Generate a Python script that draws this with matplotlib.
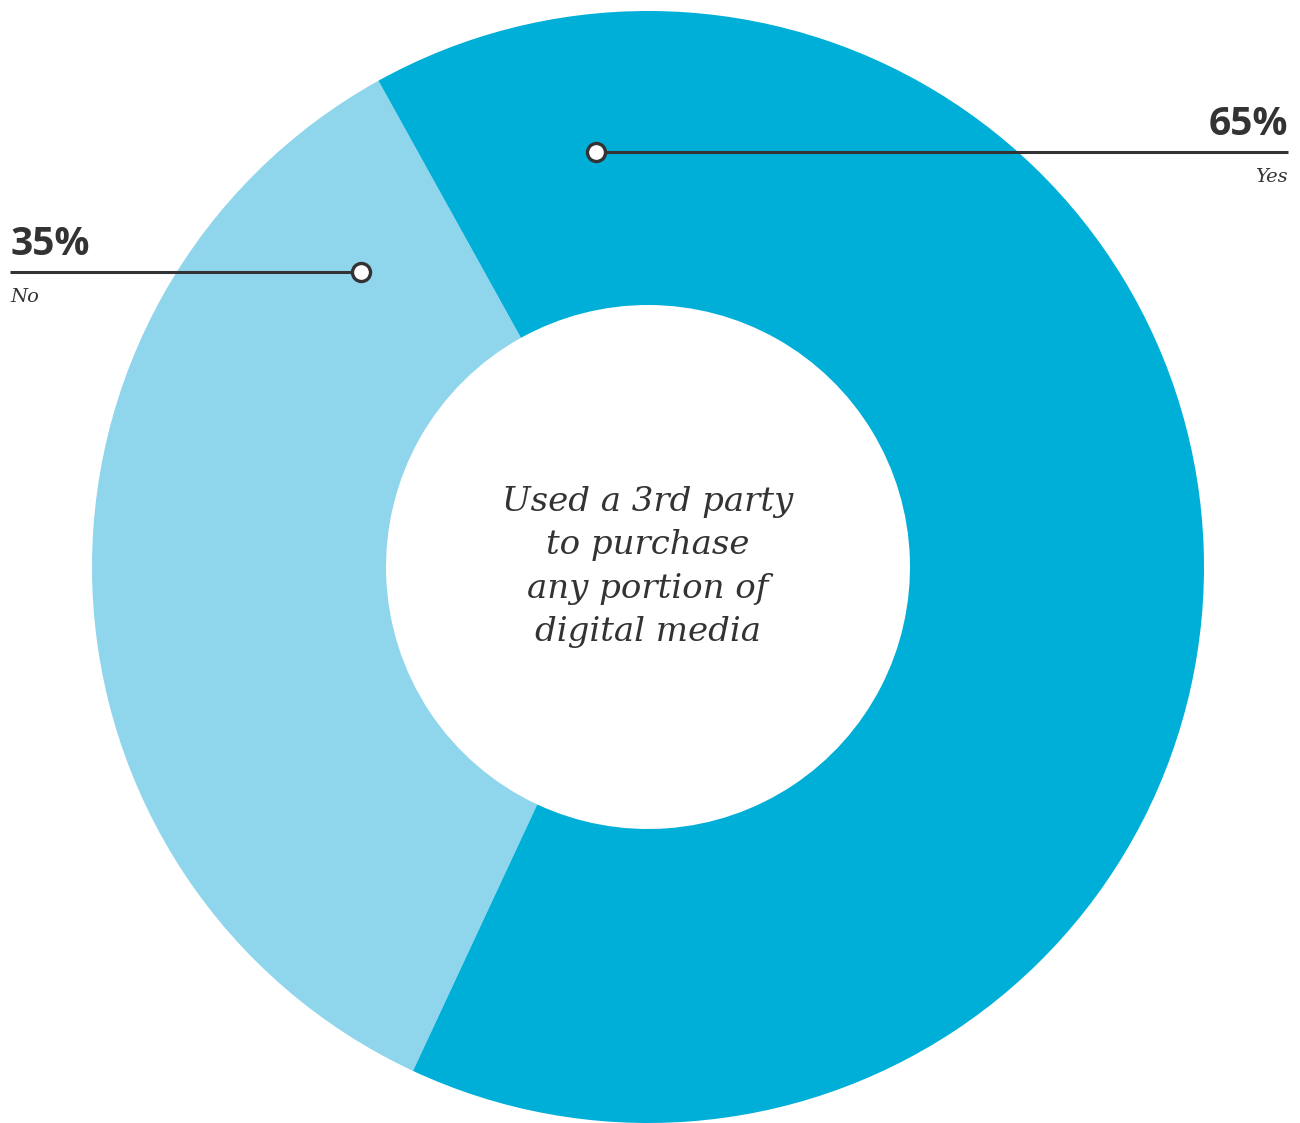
import matplotlib.pyplot as plt

# Survey answers
labels = ['No', 'Yes']
shares = [35, 65]
colors = ['#8fd6ec', '#00afd8']
center_text = 'Used a 3rd party\nto purchase\nany portion of\ndigital media'

W, H = 1300, 1123
fig = plt.figure(figsize=(W / 100, H / 100), dpi=100)
ax = fig.add_axes([0, 0, 1, 1])
ax.set_aspect('equal')


def py(y):
    # pixel rows are counted from the top
    return H - y


cx, cy = 648, py(567)
r_out, r_in = 556, 262

ax.pie(shares, colors=colors, startangle=119, counterclock=True,
       center=(cx, cy), radius=r_out, frame=True,
       wedgeprops=dict(width=r_out - r_in, linewidth=0))
ax.set_xlim(0, W)
ax.set_ylim(0, H)
ax.axis('off')

ax.text(cx, cy, center_text, ha='center', va='center', fontsize=24.5,
        family='DejaVu Serif', style='italic', color='#333333',
        linespacing=1.45)

dark = '#333333'
# callouts: (label, pct, marker x, marker y, line end x, side)
callouts = [
    (labels[1], shares[1], 596, 152, 1288, 'right'),
    (labels[0], shares[0], 361, 272, 10, 'left'),
]
for name, pct, mx, my, ex, side in callouts:
    ax.plot([mx, ex], [py(my), py(my)], color=dark, lw=2.2,
            solid_capstyle='butt', zorder=3)
    ax.plot(mx, py(my), 'o', ms=13, mfc='white', mec=dark, mew=2.4,
            zorder=4)
    ax.text(ex, py(my) + 17, f'{pct}%', ha=side, va='baseline',
            fontsize=28, family='Open Sans', weight='bold', color=dark)
    ax.text(ex, py(my) - 16, name, ha=side, va='top', fontsize=14,
            family='DejaVu Serif', style='italic', color=dark)

fig.savefig('out.png', dpi=100, facecolor='white')
